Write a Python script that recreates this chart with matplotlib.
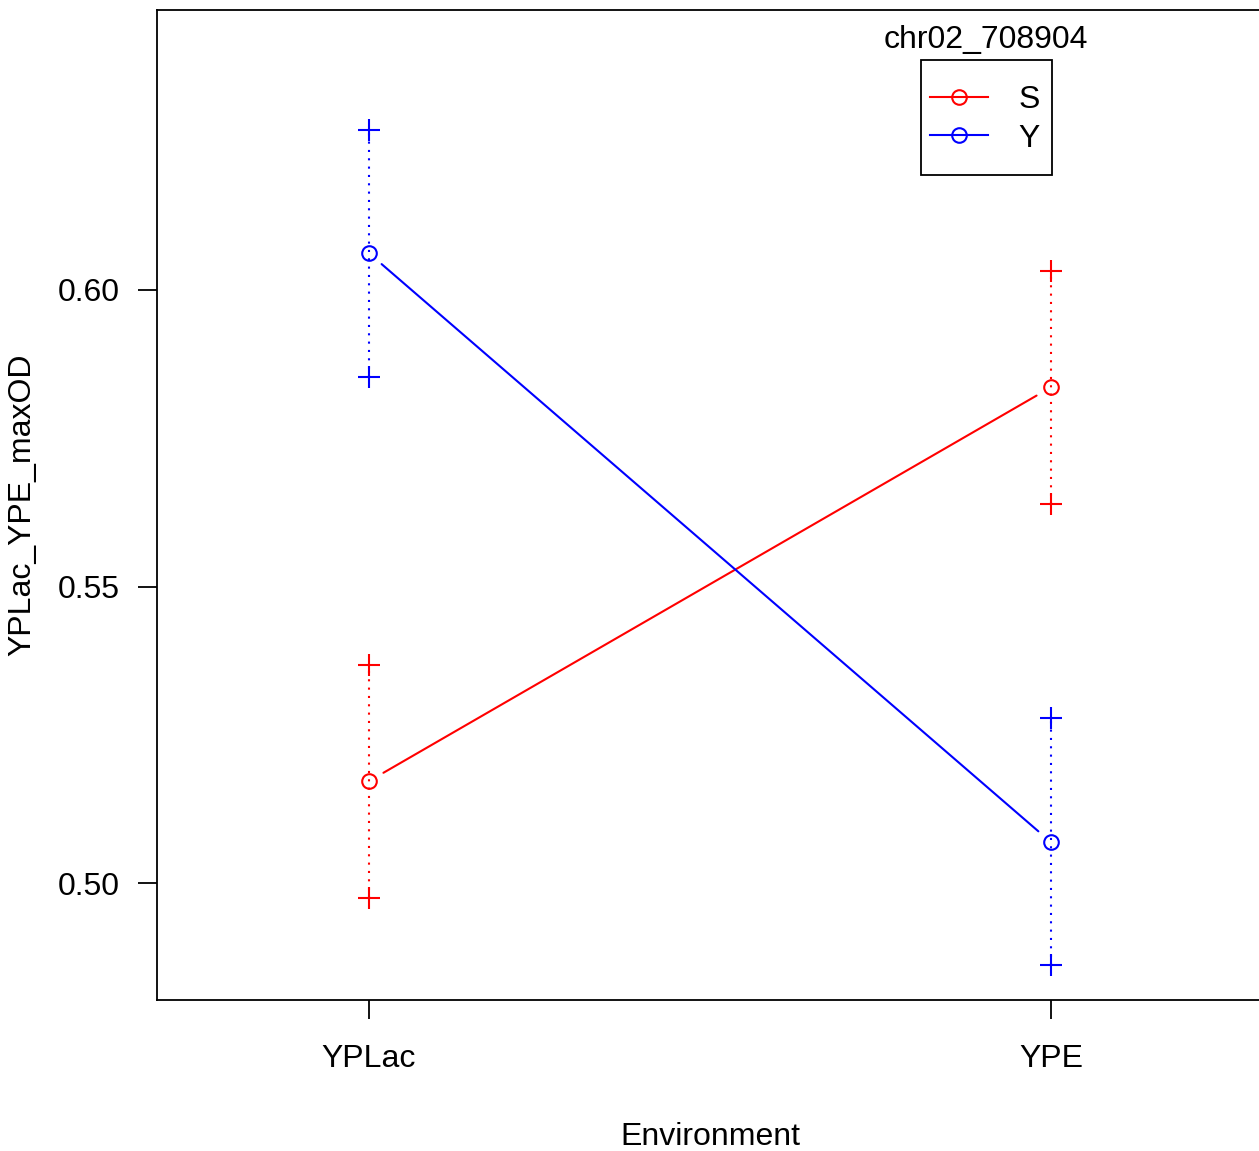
import matplotlib
matplotlib.use('Agg')
import matplotlib.pyplot as plt
import matplotlib.patches as patches
from matplotlib.lines import Line2D

plt.rcParams['font.family'] = ['Liberation Sans', 'DejaVu Sans']

# ---------- data
environments = ['YPLac', 'YPE']
genotypes = ['S', 'Y']
colors = ['red', 'blue']
means = {'S': [0.5172, 0.5836], 'Y': [0.6062, 0.5069]}
upper = {'S': [0.5368, 0.6032], 'Y': [0.6270, 0.5278]}
lower = {'S': [0.4975, 0.5639], 'Y': [0.5853, 0.4862]}
legend_title = 'chr02_708904'

W, H = 1259, 1151
fs = 23
fig = plt.figure(figsize=(W/100, H/100), dpi=100)
ax = fig.add_axes([157/W, 1-1000/H, 1-157/W, 990/H])

xs = [1, 2]
for g, c in zip(genotypes, colors):
    # error bars: dotted line with + at ends
    for x, lo, hi in zip(xs, lower[g], upper[g]):
        ax.plot([x, x], [lo, hi], color=c, lw=1.5, ls=(0, (1, 3)))
        ax.plot([x, x], [lo, hi], ls='none', marker='+', ms=16, mew=1.5, color=c)
    ax.plot(xs, means[g], ls='none', marker='o', ms=10.5, mfc='none', mec=c, mew=1.5)
    # line with gaps like R type="b"
    ax.annotate('', xy=(xs[1], means[g][1]), xytext=(xs[0], means[g][0]),
                arrowprops=dict(arrowstyle='-', color=c, lw=1.5, shrinkA=12, shrinkB=12))

ax.set_xlim(1 - 212/682, 2 + 208/682)
ax.set_ylim(0.4803, 0.6472)
ax.set_xticks(xs)
ax.set_xticklabels(environments)
ax.set_yticks([0.50, 0.55, 0.60])
ax.set_yticklabels(['0.50', '0.55', '0.60'])
ax.tick_params(labelsize=fs, length=14, width=1.3, pad=18, direction='out')
ax.tick_params(axis='y', pad=13)
ax.spines['right'].set_visible(False)
for s in ['left', 'top', 'bottom']:
    ax.spines[s].set_linewidth(1.3)

fig.text(710/W, 1-1137/H, 'Environment', ha='center', va='center', fontsize=fs)
fig.text(22/W, 1-505/H, 'YPLac_YPE_maxOD', ha='center', va='center', rotation=90, fontsize=fs)

# legend: entries without frame, box drawn separately
handles = [Line2D([], [], color=c, lw=1.5, marker='o', ms=10.5, mfc='none', mec=c, mew=1.5)
           for c in colors]
leg = ax.legend(handles, genotypes, loc='center left',
                bbox_to_anchor=(930/W, 1-119.5/H), bbox_transform=fig.transFigure,
                borderaxespad=0, borderpad=0, fontsize=fs, frameon=False,
                handlelength=1.82, handletextpad=0.95, labelspacing=0.26)
fig.patches.append(patches.Rectangle((921/W, 1-175/H), 131/W, 115/H, transform=fig.transFigure,
                                     fill=False, edgecolor='black', lw=1.3))
fig.text(986/W, 1-40/H, legend_title, ha='center', va='center', fontsize=fs)

fig.savefig('out.png', dpi=100)
